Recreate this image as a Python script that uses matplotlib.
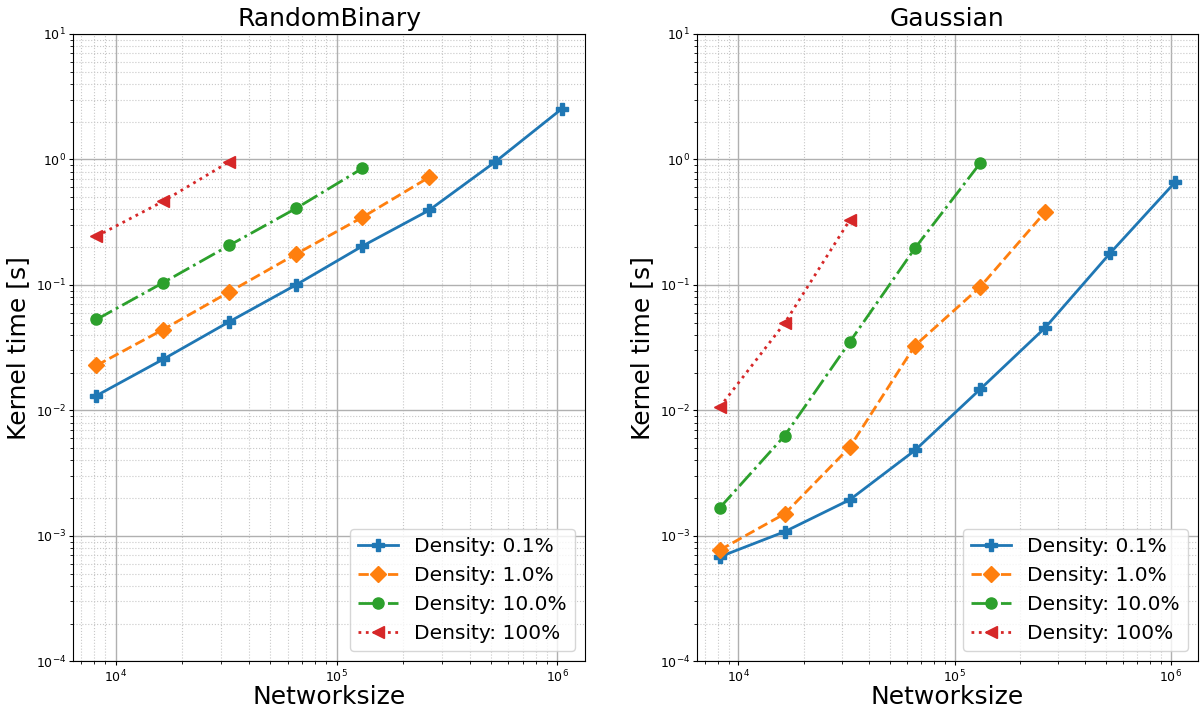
import matplotlib
matplotlib.use("Agg")
import matplotlib.pyplot as plt

# Network sizes (2^13 .. 2^20)
sizes = [8192, 16384, 32768, 65536, 131072, 262144, 524288, 1048576]
labels = ["Density: 0.1%", "Density: 1.0%", "Density: 10.0%", "Density: 100%"]

# RandomBinary kernel times [s]
rb_01 = [0.0131, 0.0255, 0.051, 0.100, 0.204, 0.393, 0.96, 2.54]
rb_1 = [0.0228, 0.044, 0.088, 0.176, 0.346, 0.72]
rb_10 = [0.053, 0.104, 0.207, 0.407, 0.85]
rb_100 = [0.244, 0.463, 0.96]

# Gaussian kernel times [s]
ga_01 = [0.00068, 0.00108, 0.00194, 0.0048, 0.0147, 0.0455, 0.179, 0.66]
ga_1 = [0.00077, 0.0015, 0.0051, 0.0328, 0.096, 0.38]
ga_10 = [0.00167, 0.0063, 0.0352, 0.196, 0.93]
ga_100 = [0.0106, 0.0498, 0.33]

styles = [
    dict(color="#1f77b4", linestyle="-", marker="P"),
    dict(color="#ff7f0e", linestyle="--", marker="D"),
    dict(color="#2ca02c", linestyle="-.", marker="o"),
    dict(color="#d62728", linestyle=":", marker="<"),
]

fig = plt.figure(figsize=(12, 7.08), dpi=100)
ax1 = fig.add_axes([0.061, 0.066, 0.4267, 0.886])
ax2 = fig.add_axes([0.5808, 0.066, 0.4175, 0.886])

panels = [
    (ax1, "RandomBinary", [rb_01, rb_1, rb_10, rb_100]),
    (ax2, "Gaussian", [ga_01, ga_1, ga_10, ga_100]),
]

for ax, title, series in panels:
    for vals, lab, st in zip(series, labels, styles):
        ax.plot(sizes[:len(vals)], vals, label=lab, linewidth=2,
                markersize=8, **st)
    ax.set_xscale("log")
    ax.set_yscale("log")
    ax.set_ylim(1e-4, 1e1)
    ax.set_title(title, fontsize=18)
    ax.set_xlabel("Networksize", fontsize=18, labelpad=0)
    ax.set_ylabel("Kernel time [s]", fontsize=18)
    ax.tick_params(axis="both", which="major", labelsize=9, length=3, pad=2)
    ax.tick_params(axis="both", which="minor", length=2)
    ax.grid(True, which="major", color="#b0b0b0", linewidth=1)
    ax.grid(True, which="minor", color="#c8c8c8", linestyle=":", linewidth=0.8)
    ax.legend(loc="lower right", fontsize=14.5)

fig.savefig("out.png", dpi=100)
